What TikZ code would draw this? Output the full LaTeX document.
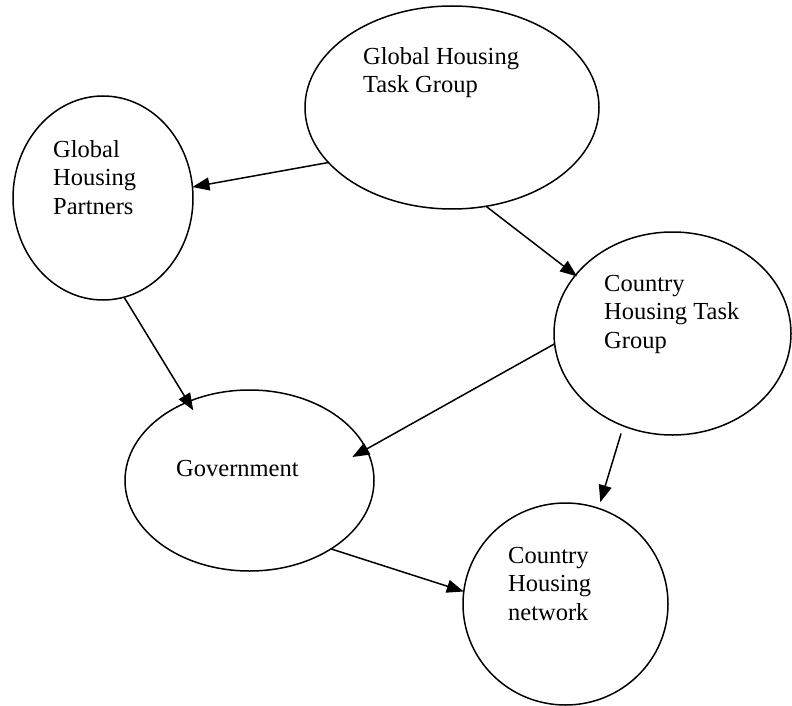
\documentclass[tikz,border=0pt]{standalone}
\usepackage{fontspec}
\setmainfont{Liberation Serif}
\usetikzlibrary{shapes.geometric,arrows.meta}

\tikzset{
  bubble/.style={draw, ellipse, line width=1.5pt, inner sep=0pt, outer sep=0pt},
  % multi-line captions sit on the baseline of their last line
  caption/.style={anchor=base west, align=left, inner sep=0pt,
    font=\fontsize{24.5}{28.5}\selectfont},
  link/.style={line width=1.5pt, -{Triangle[length=17pt,width=13pt]}}
}

\begin{document}
\begin{tikzpicture}[x=1pt,y=-1pt]
\useasboundingbox (0,0) rectangle (792,706);

% bubbles
\node[bubble, minimum width=294pt, minimum height=203pt] (ghtg) at (452,107.5) {};
\node[bubble, minimum width=180pt, minimum height=204pt] (ghp)  at (103,198) {};
\node[bubble, minimum width=237pt, minimum height=203pt] (chtg) at (672.5,333.5) {};
\node[bubble, minimum width=249pt, minimum height=181pt] (gov)  at (249.5,480.5) {};
\node[bubble, minimum width=205pt, minimum height=202pt] (chn)  at (565.5,604) {};

% captions
\node[caption] (ghtgtext) at (363,93)  {Global Housing\\Task Group};
\node[caption] (ghptext)  at (53,214)  {Global\\Housing\\Partners};
\node[caption] (chtgtext) at (604,348) {Country\\Housing Task\\Group};
\node[caption] (govtext)  at (176,476) {Government};
\node[caption] (chntext)  at (508,620) {Country\\Housing\\network};

% links
\draw[link] (ghtg.204.9) -- (ghp.7);
\draw[link, shorten >=-2pt] (ghtg.289) -- (chtg.149.3);
\draw[link, shorten >=-10pt] (ghp.282.3) -- (gov.128.7);
\draw[link, shorten >=-16pt] (chtg.185.5) -- (gov.15);
\draw[link, shorten <=8pt, shorten >=6.5pt] (chtg.242.65) -- (chn.71.3);
\draw[link] (gov.320) -- (chn.173.9);
\end{tikzpicture}
\end{document}
